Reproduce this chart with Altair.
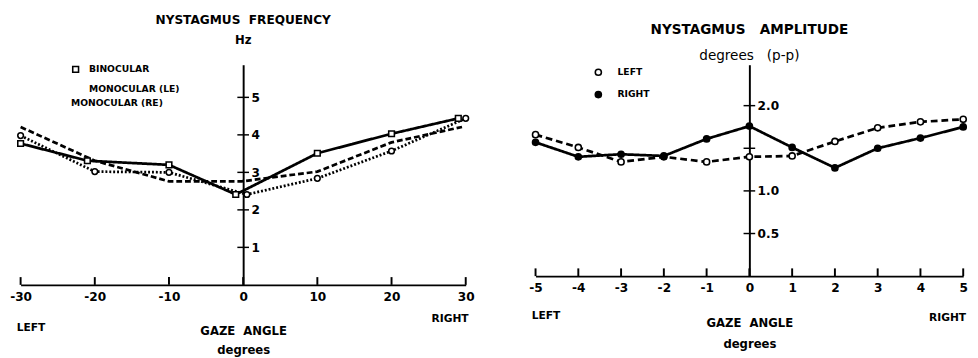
import altair as alt
import pandas as pd

# ---------------- data: nystagmus frequency (Hz) ----------------
freq_series = ["BINOCULAR", "MONOCULAR (LE)", "MONOCULAR (RE)"]
freq_shapes = ["square", "circle", "triangle-up"]
bin_x = [-30, -21, -10, -1, 10, 20, 29]
bin_y = [3.77, 3.31, 3.20, 2.41, 3.51, 4.03, 4.44]
le_x = [-30, -20, -10, 0.5, 10, 20, 30]
le_y = [3.98, 3.02, 3.00, 2.41, 2.84, 3.57, 4.44]
re_x = [-30, -20, -10, -0.2, 10, 20, 29.5]
re_y = [4.21, 3.31, 2.76, 2.76, 3.02, 3.80, 4.21]
freq_ticks_x = [-30, -20, -10, 0, 10, 20, 30]
freq_ticks_y = [1, 2, 3, 4, 5]

# ---------------- data: nystagmus amplitude (deg p-p) ----------------
amp_series = ["LEFT", "RIGHT"]
amp_x = [-5, -4, -3, -2, -1, 0, 1, 2, 3, 4, 5]
amp_left = [1.66, 1.51, 1.34, 1.40, 1.34, 1.40, 1.41, 1.58, 1.74, 1.81, 1.84]
amp_right = [1.57, 1.40, 1.43, 1.41, 1.61, 1.76, 1.51, 1.27, 1.50, 1.62, 1.75]
amp_ticks_x = [-5, -4, -3, -2, -1, 0, 1, 2, 3, 4, 5]
amp_ticks_y = [0.5, 1.0, 1.5, 2.0]

FONT = "DejaVu Sans"
W1, H1 = 459, 227
W2, H2 = 441, 218

rows = []
for s, xs, ys in zip(freq_series, [bin_x, le_x, re_x], [bin_y, le_y, re_y]):
    for i, (x, y) in enumerate(zip(xs, ys)):
        rows.append({"series": s, "kind": s, "x": x, "y": y, "ord": i})
df_f = pd.DataFrame(rows)

rows = []
for s, ys in zip(amp_series, [amp_left, amp_right]):
    for i, (x, y) in enumerate(zip(amp_x, ys)):
        rows.append({"series": s, "kind": s, "x": x, "y": y, "ord": i})
df_a = pd.DataFrame(rows)

hyphen = "replace(format(datum.value, '%s'), '\u2212', '-')"


def panel(df, series, W, H, xdom, ydom, xticks, yticks, ylab_expr, dash_range,
          point_layers, side_df, title, dy_left, dy_right, tpad, tline):
    xs = alt.Scale(domain=xdom, nice=False, zero=False)
    ys = alt.Scale(domain=ydom, nice=False, zero=False)
    xaxis = alt.Axis(
        orient="bottom", values=xticks, ticks=False, domain=True,
        domainColor="black", domainWidth=2, grid=False,
        labelExpr=hyphen % "d", labelFont=FONT, labelFontSize=12.5,
        labelFontWeight="bold", labelColor="black", labelPadding=6,
        labelFlush=False,
        title=["GAZE\u00a0\u00a0ANGLE", "degrees"], titleFont=FONT,
        titleFontSize=12, titleFontWeight="bold", titleColor="black",
        titlePadding=tpad, titleLineHeight=tline)
    yaxis = alt.Axis(
        orient="right", offset=-W / 2, values=yticks, ticks=False,
        domainColor="black", domainWidth=2, grid=False,
        labelExpr=ylab_expr, labelFont=FONT, labelFontSize=12.5,
        labelFontWeight="bold", labelColor="black", labelPadding=8,
        title=None)
    lines = alt.Chart(df).mark_line(color="black", strokeWidth=2.8).encode(
        x=alt.X("x:Q", scale=xs, axis=xaxis),
        y=alt.Y("y:Q", scale=ys, axis=yaxis),
        strokeDash=alt.StrokeDash("series:N", scale=alt.Scale(
            domain=series, range=dash_range), legend=None),
        order="ord:Q",
    )
    pts = [pm.encode(x=alt.X("x:Q", scale=xs, axis=xaxis),
                     y=alt.Y("y:Q", scale=ys, axis=yaxis), **enc)
           for pm, enc in point_layers]
    xt = alt.Chart(pd.DataFrame({"x": xticks})).mark_tick(
        orient="vertical", size=8, thickness=2, yOffset=-4, color="black",
        opacity=1).encode(
        x=alt.X("x:Q", scale=xs, axis=xaxis),
        y=alt.YDatum(0, scale=ys, axis=yaxis))
    yt = alt.Chart(pd.DataFrame({"y": yticks})).mark_tick(
        orient="horizontal", size=12, thickness=1.5, color="black",
        opacity=1).encode(
        x=alt.XDatum(0, scale=xs, axis=xaxis),
        y=alt.Y("y:Q", scale=ys, axis=yaxis))
    left_txt = alt.Chart(side_df).transform_filter("datum.t == 'LEFT'").mark_text(
        font=FONT, fontSize=11, fontWeight="bold", align="left", dx=-4,
        dy=dy_left, color="black").encode(
        x=alt.X("x:Q", scale=xs, axis=xaxis),
        y=alt.YDatum(0, scale=ys, axis=yaxis), text="t:N")
    right_txt = alt.Chart(side_df).transform_filter("datum.t == 'RIGHT'").mark_text(
        font=FONT, fontSize=11, fontWeight="bold", align="right", dx=3,
        dy=dy_right, color="black").encode(
        x=alt.X("x:Q", scale=xs, axis=xaxis),
        y=alt.YDatum(0, scale=ys, axis=yaxis), text="t:N")
    return alt.layer(lines, xt, yt, *pts, left_txt, right_txt).properties(
        width=W, height=H, title=title)


# ---------- left panel: one legend entry per marker shape ----------
def freq_legend(shape, ly):
    return alt.Legend(orient="none", legendX=52, legendY=ly, title=None,
                      symbolType=shape, symbolFillColor="white",
                      symbolStrokeColor="black", symbolStrokeWidth=1.6,
                      symbolSize=36, symbolOpacity=1, labelFont=FONT,
                      labelFontSize=9.5, labelFontWeight="bold",
                      labelColor="black", labelOffset=9)


def freq_mark(name, shape):
    return alt.Chart(df_f).transform_filter(
        alt.datum.kind == name).mark_point(
        filled=True, fill="white", stroke="black", strokeWidth=1.6, size=34,
        opacity=1, shape=shape)


freq_layers = [
    (freq_mark(freq_series[0], freq_shapes[0]),
     dict(color=alt.Color("kind:N", scale=alt.Scale(
         domain=[freq_series[0]], range=["white"]),
         legend=freq_legend(freq_shapes[0], 0)))),
    (freq_mark(freq_series[1], freq_shapes[1]),
     dict(opacity=alt.Opacity("kind:N", scale=alt.Scale(
         domain=[freq_series[1]], range=[1]),
         legend=freq_legend(freq_shapes[1], 20)))),
    (freq_mark(freq_series[2], freq_shapes[2]),
     dict(size=alt.Size("kind:N", scale=alt.Scale(
         domain=[freq_series[2]], range=[34]),
         legend=freq_legend(freq_shapes[2], 40)))),
]
side_f = pd.DataFrame({"x": [-30, 30], "t": ["LEFT", "RIGHT"]})
left = panel(df_f, freq_series, W1, H1, [-30, 30], [0, 5.87], freq_ticks_x,
             freq_ticks_y, hyphen % "d", [[1, 0], [2, 2], [6, 3]],
             freq_layers, side_f,
             alt.TitleParams("NYSTAGMUS\u00a0\u00a0FREQUENCY", subtitle="Hz",
                             anchor="middle", font=FONT, fontSize=12.5,
                             fontWeight="bold", color="black",
                             subtitleFont=FONT, subtitleFontSize=12,
                             subtitleFontWeight="bold", subtitleColor="black",
                             subtitlePadding=10, offset=19),
             45, 35, 24, 19)

# ---------- right panel ----------
amp_points = alt.Chart(df_a).mark_point(
    filled=True, stroke="black", strokeWidth=1.6, size=40, opacity=1,
    shape="circle")
amp_enc = dict(fill=alt.Fill("kind:N", scale=alt.Scale(
    domain=amp_series, range=["white", "black"]),
    legend=alt.Legend(orient="none", legendX=591, legendY=3, title=None,
                      symbolType="circle", symbolStrokeColor="black",
                      symbolStrokeWidth=1.6, symbolSize=40, labelFont=FONT,
                      labelFontSize=9.5, labelFontWeight="bold",
                      labelColor="black", rowPadding=9, labelOffset=15)))
side_a = pd.DataFrame({"x": [-5, 5], "t": ["LEFT", "RIGHT"]})
right = panel(df_a, amp_series, W2, H2, [-5, 5], [0, 2.48], amp_ticks_x,
              amp_ticks_y,
              "datum.value == 1.5 ? '' : format(datum.value, '.1f')",
              [[7, 4], [1, 0]], [(amp_points, amp_enc)], side_a,
              alt.TitleParams("NYSTAGMUS\u00a0\u00a0\u00a0AMPLITUDE",
                              subtitle="degrees\u00a0\u00a0\u00a0(p-p)",
                              anchor="middle", font=FONT, fontSize=14,
                              fontWeight="bold", color="black",
                              subtitleFont=FONT, subtitleFontSize=14,
                              subtitleColor="black", subtitlePadding=13,
                              offset=2),
              41, 43, 24, 22)

chart = alt.hconcat(left, right, spacing=56).resolve_scale(
    strokeDash="independent", x="independent", y="independent").configure_view(
    stroke=None).properties(padding={"left": 1, "top": 0, "right": 0, "bottom": 0})

chart.save("out.html", embed_options={"renderer": "svg", "actions": False})
